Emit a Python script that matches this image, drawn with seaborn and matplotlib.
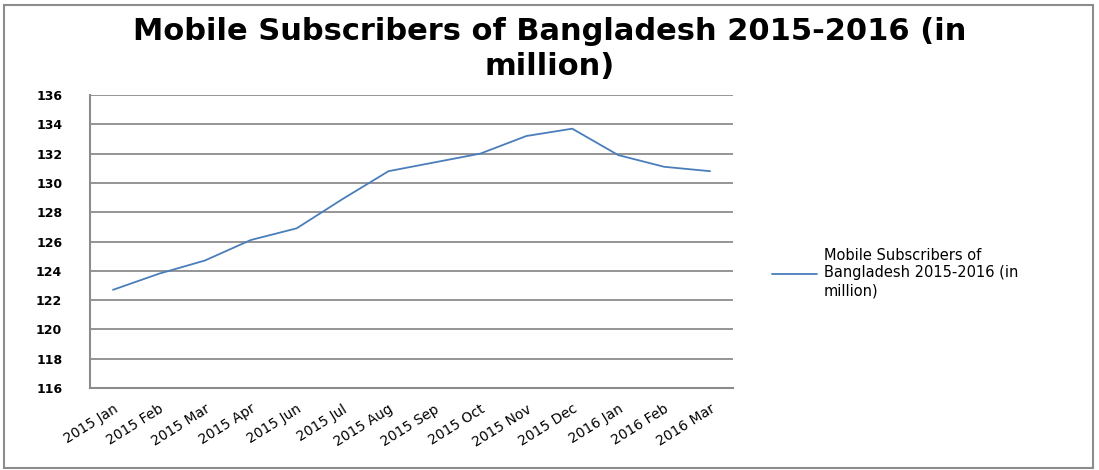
import matplotlib
matplotlib.use("Agg")
import matplotlib.pyplot as plt
from matplotlib.patches import Rectangle
import seaborn as sns
import pandas as pd

months = ["2015 Jan", "2015 Feb", "2015 Mar", "2015 Apr", "2015 Jun", "2015 Jul",
          "2015 Aug", "2015 Sep", "2015 Oct", "2015 Nov", "2015 Dec",
          "2016 Jan", "2016 Feb", "2016 Mar"]
subscribers = [122.7, 123.8, 124.7, 126.1, 126.9, 128.9, 130.8,
               131.4, 132.0, 133.2, 133.7, 131.9, 131.1, 130.8]
series_name = "Mobile Subscribers of Bangladesh 2015-2016 (in million)"
y_ticks = list(range(116, 137, 2))

df = pd.DataFrame({"month": months, "value": subscribers, "series": series_name})

sns.set_style("white")
plt.rcParams["font.family"] = ["DejaVu Sans"]
plt.rcParams["text.color"] = "black"
plt.rcParams["xtick.color"] = "black"
plt.rcParams["ytick.color"] = "black"

fig = plt.figure(figsize=(10.99, 4.70), dpi=100)
ax = fig.add_axes([90 / 1099, 1 - 388 / 470, (733 - 90) / 1099, (388 - 95) / 470])

sns.lineplot(data=df, x="month", y="value", hue="series", palette=["#4a7ebb"],
             linewidth=1.3, sort=False, ax=ax)

ax.set_xlim(-0.5, len(months) - 0.5)
ax.set_ylim(116, 136)
ax.set_yticks(y_ticks)
ax.set_yticklabels([str(t) for t in y_ticks], fontsize=9, fontweight="bold")
ax.yaxis.grid(True, color="#8c8c8c", linewidth=1.3)
ax.xaxis.grid(False)
ax.set_xlabel("")
ax.set_ylabel("")
ax.tick_params(axis="x", length=0, pad=10)
ax.tick_params(axis="y", length=0, pad=20)
for lbl in ax.get_xticklabels():
    lbl.set_rotation(32)
    lbl.set_ha("right")
    lbl.set_rotation_mode("anchor")
    lbl.set_fontsize(10)

for side in ["top", "right"]:
    ax.spines[side].set_visible(False)
for side in ["left", "bottom"]:
    ax.spines[side].set_color("#8c8c8c")
    ax.spines[side].set_linewidth(1.5)

handles, _ = ax.get_legend_handles_labels()
ax.legend(handles, ["Mobile Subscribers of\nBangladesh 2015-2016 (in\nmillion)"],
          loc="center left", bbox_to_anchor=(766 / 1099, 1 - 273 / 470),
          bbox_transform=fig.transFigure, frameon=False, fontsize=10.5,
          handlelength=3.1, handletextpad=0.45, borderaxespad=0,
          labelspacing=0.5)
plt.setp(ax.get_legend().get_texts(), linespacing=1.25)

fig.text(0.5, 1 - 49 / 470, "Mobile Subscribers of Bangladesh 2015-2016 (in\nmillion)",
         ha="center", va="center", fontsize=22, fontweight="bold",
         linespacing=1.22)

fig.patches.append(Rectangle((4 / 1099, 2 / 470), 1089 / 1099, 463 / 470,
                             transform=fig.transFigure, fill=False,
                             edgecolor="#8c8c8c", linewidth=1.5))

fig.savefig("out.png", dpi=100)
